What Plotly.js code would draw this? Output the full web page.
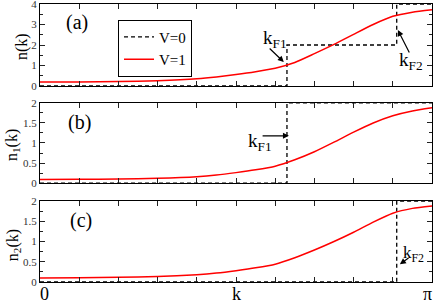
<!DOCTYPE html>
<html><head><meta charset="utf-8">
<script src="https://cdn.plot.ly/plotly-3.0.1.min.js"></script>
<style>html,body{margin:0;padding:0;background:#fff}</style>
</head><body><div id="chart" style="width:436px;height:304px"></div>
<script>
// k in units of pi
const kFrac   = [0, 0.1, 0.2, 0.3, 0.4, 0.45, 0.5, 0.55, 0.6, 0.65, 0.7, 0.75, 0.8, 0.85, 0.9, 0.95, 1.0];
const nTotal  = [0.2, 0.2, 0.22, 0.26, 0.35, 0.44, 0.56, 0.7, 0.87, 1.15, 1.58, 2.03, 2.52, 3.0, 3.4, 3.6, 3.72];
const n1      = [0.09, 0.093, 0.10, 0.12, 0.16, 0.2, 0.26, 0.33, 0.42, 0.58, 0.78, 1.02, 1.27, 1.5, 1.68, 1.8, 1.88];
const n2      = [0.1, 0.105, 0.115, 0.135, 0.18, 0.22, 0.28, 0.35, 0.44, 0.6, 0.79, 1.0, 1.23, 1.48, 1.7, 1.82, 1.88];
const kF1Frac = 0.63, kF2Frac = 0.91;
// V=0 step functions (value from each break point onward)
const stepTotalK = [0, kF1Frac, kF2Frac, 1.0];
const stepTotalV = [0, 2, 4, 4];
const stepN1K = [0, kF1Frac, 1.0];
const stepN1V = [0, 2, 2];
const stepN2K = [0, kF2Frac, 1.0];
const stepN2V = [0, 2, 2];
const xTickFrac = [0, 0.1, 0.2, 0.3, 0.4, 0.5, 0.6, 0.7, 0.8, 0.9, 1.0];
const xEndLabels = ['0', 'π'];
const xTitle = 'k';
const yTitles = ['n(k)', 'n<sub>1</sub>(k)', 'n<sub>2</sub>(k)'];

const P = Math.PI;
const toK = a => a.map(v => v * P);
const FONT = 'Liberation Serif, Times New Roman, serif';

const dashStyle = {color: 'black', width: 1.3, dash: '4px,3px', shape: 'hv'};
const redStyle = {color: 'red', width: 1.5, shape: 'spline', smoothing: 0.6};

const traces = [
  {x: toK(stepTotalK), y: stepTotalV, xaxis: 'x', yaxis: 'y', mode: 'lines', line: dashStyle, name: 'V=0', cliponaxis: false},
  {x: toK(kFrac), y: nTotal, xaxis: 'x', yaxis: 'y', mode: 'lines', line: redStyle, name: 'V=1'},
  {x: toK(stepN1K), y: stepN1V, xaxis: 'x2', yaxis: 'y2', mode: 'lines', line: dashStyle, showlegend: false, cliponaxis: false},
  {x: toK(kFrac), y: n1, xaxis: 'x2', yaxis: 'y2', mode: 'lines', line: redStyle, showlegend: false},
  {x: toK(stepN2K), y: stepN2V, xaxis: 'x3', yaxis: 'y3', mode: 'lines', line: dashStyle, showlegend: false, cliponaxis: false},
  {x: toK(kFrac), y: n2, xaxis: 'x3', yaxis: 'y3', mode: 'lines', line: redStyle, showlegend: false}
];

function xAx(anchor) {
  return {
    anchor: anchor, range: [0, P], domain: [0, 1],
    tickmode: 'array', tickvals: toK(xTickFrac),
    showticklabels: false, ticks: 'inside', ticklen: 5, tickcolor: '#222',
    mirror: 'allticks', showline: true, linecolor: 'black', linewidth: 1,
    showgrid: false, zeroline: false
  };
}
function yAx(anchor, dom, range, dtick, minorDt) {
  return {
    anchor: anchor, domain: dom, range: range, dtick: dtick, tick0: 0,
    ticks: 'inside', ticklen: 5, tickcolor: '#222',
    minor: {dtick: minorDt, ticks: 'inside', ticklen: 3, tickcolor: '#222', showgrid: false},
    mirror: 'allticks', showline: true, linecolor: 'black', linewidth: 1,
    showgrid: false, zeroline: false, ticklabeloverflow: 'allow',
    tickfont: {family: FONT, size: 11, color: '#333'}
  };
}

function txt(xr, yr, kf, y, s, size) {
  return {xref: xr, yref: yr, x: kf * P, y: y, text: s, showarrow: false,
          font: {family: FONT, size: size || 19, color: 'black'}, xanchor: 'center', yanchor: 'middle'};
}
function arr(xr, yr, tkf, ty, hkf, hy) {
  return {xref: xr, yref: yr, axref: xr, ayref: yr, x: hkf * P, y: hy, ax: tkf * P, ay: ty,
          text: '', showarrow: true, arrowhead: 2, arrowsize: 1, arrowwidth: 1.2, arrowcolor: 'black', standoff: 0, startstandoff: 0};
}
function ytitle(yr, y, xshift, s) {
  return {xref: 'paper', yref: yr, x: 0, y: y, xshift: xshift, text: s, textangle: -90, showarrow: false,
          font: {family: FONT, size: 16, color: 'black'}, xanchor: 'center', yanchor: 'middle'};
}
function xlab(kf, xshift, s) {
  return {xref: 'x3', yref: 'paper', x: kf * P, y: 0, xshift: xshift, yshift: -12, text: s, showarrow: false,
          font: {family: FONT, size: 18, color: 'black'}, xanchor: 'center', yanchor: 'middle'};
}

const layout = {
  width: 436, height: 304,
  margin: {l: 40, r: 4, t: 4, b: 22},
  paper_bgcolor: 'white', plot_bgcolor: 'white',
  font: {family: FONT},
  showlegend: true,
  legend: {x: 0.199, y: 0.944, xanchor: 'left', yanchor: 'top', bgcolor: 'white',
           bordercolor: 'black', borderwidth: 1, font: {family: FONT, size: 15, color: 'black'},
           itemwidth: 30, tracegroupgap: 0},
  xaxis: xAx('y'),
  xaxis2: Object.assign(xAx('y2'), {matches: 'x'}),
  xaxis3: Object.assign(xAx('y3'), {matches: 'x'}),
  yaxis: yAx('x', [0.705, 1.0], [0, 4], 1, 0.5),
  yaxis2: yAx('x2', [0.356, 0.644], [0, 2], 0.5, 0.25),
  yaxis3: yAx('x3', [0, 0.291], [0, 2], 0.5, 0.25),
  annotations: [
    txt('x', 'y', 0.095, 3.12, '(a)', 20),
    txt('x2', 'y2', 0.102, 1.5, '(b)', 20),
    txt('x3', 'y3', 0.105, 1.53, '(c)', 20),
    txt('x', 'y', 0.6, 2.3, 'k<sub>F1</sub>'),
    arr('x', 'y', 0.582, 1.9, 0.622, 1.17),
    txt('x', 'y', 0.946, 1.22, 'k<sub>F2</sub>'),
    arr('x', 'y', 0.944, 1.56, 0.913, 2.73),
    txt('x2', 'y2', 0.561, 1.03, 'k<sub>F1</sub>'),
    arr('x2', 'y2', 0.564, 1.18, 0.635, 1.18),
    txt('x3', 'y3', 0.952, 0.69, 'k<sub>F2</sub>', 17),
    arr('x3', 'y3', 0.944, 0.62, 0.918, 0.44),
    ytitle('y', 1.9, -18, yTitles[0]),
    ytitle('y2', 0.95, -27, yTitles[1]),
    ytitle('y3', 0.91, -27, yTitles[2]),
    xlab(0, 4, xEndLabels[0]),
    xlab(1, -5, xEndLabels[1]),
    xlab(0.5, 0, xTitle)
  ]
};

Plotly.newPlot('chart', traces, layout, {displayModeBar: false, staticPlot: true});
</script>
</body></html>
